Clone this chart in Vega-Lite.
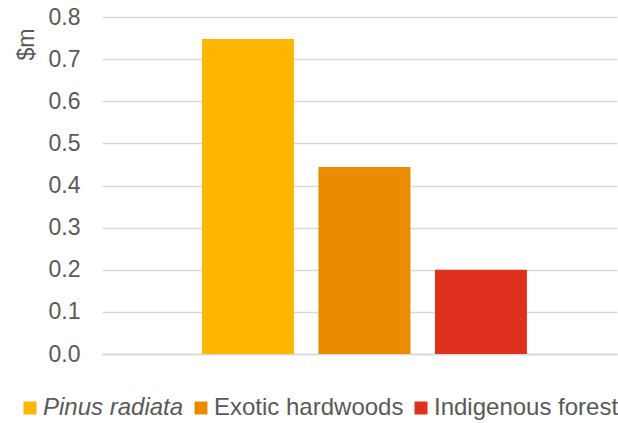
{
  "$schema": "https://vega.github.io/schema/vega-lite/v6.json",
  "autosize": "none",
  "padding": {"left": 102, "top": 17, "right": 1, "bottom": 69},
  "width": 515,
  "height": 337,
  "background": "white",
  "config": {
    "font": "Liberation Sans",
    "view": {"stroke": null}
  },
  "data": {
    "values": [
      {"type": "Pinus radiata", "value": 0.748},
      {"type": "Exotic hardwoods", "value": 0.444},
      {"type": "Indigenous forest", "value": 0.2}
    ]
  },
  "mark": {"type": "bar"},
  "encoding": {
    "x": {
      "field": "type",
      "type": "nominal",
      "sort": ["Pinus radiata", "Exotic hardwoods", "Indigenous forest"],
      "scale": {"paddingInner": 0.2103, "paddingOuter": 0.8155, "align": 0.526},
      "axis": {
        "title": null,
        "labels": false,
        "ticks": false,
        "domain": true,
        "domainColor": "#d9d9d9",
        "domainWidth": 1.5
      }
    },
    "y": {
      "field": "value",
      "type": "quantitative",
      "scale": {"domain": [0, 0.8]},
      "axis": {
        "values": [0, 0.1, 0.2, 0.3, 0.4, 0.5, 0.6, 0.7, 0.8],
        "format": ".1f",
        "title": "$m",
        "titleAngle": -90,
        "titleX": -76,
        "titleY": 27,
        "titleAlign": "center",
        "titleBaseline": "middle",
        "titleFontSize": 23,
        "titleFontWeight": "normal",
        "titleColor": "#595959",
        "labelFontSize": 23,
        "labelColor": "#595959",
        "labelPadding": 22,
        "ticks": false,
        "domain": false,
        "grid": true,
        "gridColor": "#d9d9d9",
        "gridWidth": 1.5
      }
    },
    "color": {
      "field": "type",
      "type": "nominal",
      "sort": ["Pinus radiata", "Exotic hardwoods", "Indigenous forest"],
      "scale": {
        "domain": ["Pinus radiata", "Exotic hardwoods", "Indigenous forest"],
        "range": ["#FFB600", "#EB8C00", "#E0301E"]
      },
      "legend": {
        "title": null,
        "orient": "none",
        "direction": "horizontal",
        "legendX": -84,
        "legendY": 379,
        "symbolType": "square",
        "symbolSize": 169,
        "symbolStrokeWidth": 0,
        "labelFontSize": 24,
        "labelLimit": 0,
        "labelColor": "#595959",
        "labelOffset": 1,
        "columnPadding": 5,
        "encode": {
          "labels": {
            "update": {
              "fontStyle": {"signal": "datum.label === 'Pinus radiata' ? 'italic' : 'normal'"}
            }
          }
        }
      }
    }
  }
}
